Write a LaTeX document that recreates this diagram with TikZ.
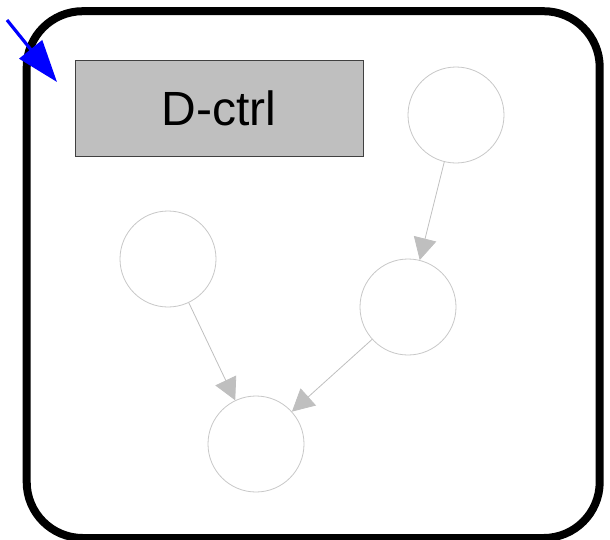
\documentclass[tikz,border=0pt]{standalone}
\usepackage{fontspec}
\setmainfont{Liberation Sans}
\usetikzlibrary{arrows.meta}
\begin{document}
\begin{tikzpicture}[x=1pt,y=-1pt,
  frame/.style={draw=black,line width=8pt,rounded corners=56pt},
  ctrlbox/.style={draw=black!75,fill=black!25,line width=0.8pt,minimum width=288pt,minimum height=96pt,inner sep=0pt,font=\fontsize{48}{56}\selectfont},
  state/.style={circle,draw=black!22,line width=0.8pt,minimum size=96pt,inner sep=0pt},
  link/.style={draw=black!25,line width=0.8pt,-{Triangle[length=22pt,width=23pt]},color=black!25},
  entry/.style={draw=blue,line width=3.2pt,-{Triangle[length=42pt,width=29pt]}}
]
\useasboundingbox (0,0) rectangle (610,539);
\draw[frame] (26.7,11.2) rectangle (599.7,538);
\node[ctrlbox] (ctrl) at (219,108) {D-ctrl};
\node[state] (s1) at (456,115) {};
\node[state] (s2) at (168,259) {};
\node[state] (s3) at (408,307) {};
\node[state] (s4) at (256,444) {};
\coordinate (start) at (7,20);
\coordinate (entrytip) at (57,82);
\draw[link] (s1) -- (s3);
\draw[link] (s2) -- (s4);
\draw[link] (s3) -- (s4);
\draw[entry] (start) -- (entrytip);
\end{tikzpicture}
\end{document}
